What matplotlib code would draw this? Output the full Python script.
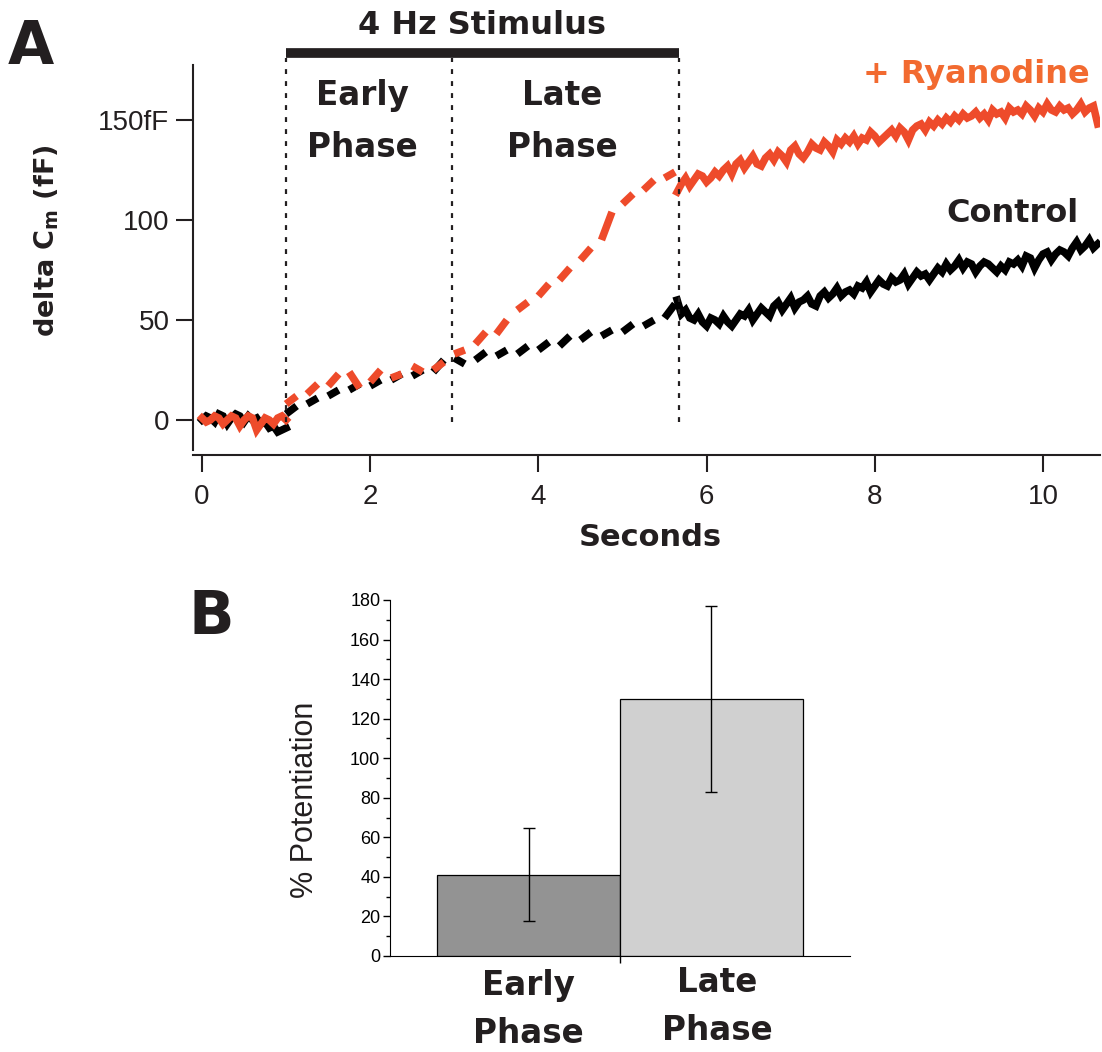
import matplotlib.pyplot as plt
import numpy as np

plt.rcParams['font.family'] = ['Liberation Sans', 'DejaVu Sans']
HEAVY = ['DejaVu Sans']
INK = '#231f20'
RED = '#ee4b2b'
ORANGE = '#f26a30'

# ---- panel A data (delta Cm in fF) ----
pre_t = np.linspace(0.0, 1.0, 21)
control_pre = [0, 2, 1, -1, 3, 2, -2, 1, 3, 2, -1, 2, 0, 1, -2, -1, -4, -3, -6, -5, -4]
ryan_pre = [1, -1, 0, 2, 1, -2, 0, 2, 1, -3, 0, 2, 1, -5, -2, 1, 0, -2, 1, 2, 0]

# during 4 Hz stimulus: pairs of samples between stimuli
stim_t = np.linspace(1.0, 5.625, 38)
control_stim = [3, 7, 8, 11, 12, 15, 15, 18, 17, 20, 20, 23, 22, 25, 24, 30, 31, 28, 30, 34,
                32, 35, 33, 37, 35, 39, 37, 42, 40, 44, 42, 45, 44, 48, 47, 50, 51, 58]
ryan_stim = [8, 12, 13, 18, 17, 23, 24, 16, 19, 25, 21, 23, 27, 24, 25, 29, 33, 35, 38, 44,
             43, 50, 55, 59, 62, 68, 70, 76, 80, 86, 90, 104, 108, 113, 115, 120, 121, 124]

post_t = np.linspace(5.65, 10.65, 101)
control_post = [60, 53, 55, 51, 50, 53, 49, 47, 51, 50, 48, 52, 49, 47, 50, 53, 52, 55, 50, 53,
                56, 54, 52, 57, 59, 55, 58, 61, 56, 59, 60, 62, 58, 57, 62, 64, 61, 63, 66, 62,
                64, 65, 63, 67, 66, 69, 64, 67, 70, 68, 67, 71, 69, 70, 73, 68, 71, 74, 72, 73,
                70, 73, 76, 74, 78, 75, 77, 80, 76, 79, 78, 74, 77, 79, 78, 76, 74, 77, 75, 79,
                78, 80, 77, 82, 81, 76, 80, 83, 84, 80, 83, 85, 84, 82, 86, 89, 85, 87, 90, 86, 88]
ryan_post = [114, 118, 121, 117, 120, 123, 122, 119, 121, 124, 122, 125, 127, 123, 128, 130, 126,
             129, 132, 128, 127, 131, 133, 130, 134, 132, 129, 135, 137, 133, 131, 134, 138, 136,
             135, 139, 137, 134, 140, 138, 141, 139, 142, 138, 141, 140, 144, 142, 139, 141, 143,
             145, 142, 146, 144, 140, 145, 147, 148, 145, 149, 147, 150, 148, 151, 149, 152, 150,
             153, 151, 152, 154, 151, 153, 150, 155, 153, 154, 151, 156, 154, 155, 153, 157, 155,
             152, 156, 154, 158, 155, 154, 157, 155, 156, 153, 155, 158, 154, 156, 157, 148]

stim_on, stim_off = 1.0, 5.67
phase_split = 2.97

# ---- panel B data ----
phases = ['Early\nPhase', 'Late\nPhase']
potentiation = [41.2, 130.0]
potentiation_err = [23.5, 47.0]
bar_colors = ['#939393', '#d0d0d0']

fig = plt.figure(figsize=(11.02, 10.52), dpi=100)

# ================= panel A =================
ax = fig.add_axes([193 / 1102, 1 - 455 / 1052, 907 / 1102, 390 / 1052])
ax.set_xlim(-0.107, 10.678)
ax.set_ylim(-17.5, 177.5)

lw = 5.4
for t, y, c in [(pre_t, control_pre, 'black'), (pre_t, ryan_pre, RED)]:
    ax.plot(t, y, color=c, lw=lw, solid_joinstyle='miter')
for y, c in [(control_stim, 'black'), (ryan_stim, RED)]:
    ax.plot(stim_t.reshape(-1, 2).T, np.array(y).reshape(-1, 2).T, color=c, lw=lw,
            solid_capstyle='butt')
for y, c in [(control_post, 'black'), (ryan_post, RED)]:
    ax.plot(post_t, y, color=c, lw=lw, solid_joinstyle='miter')

# stimulus bar and phase boundaries
ax.plot([stim_on, stim_off], [183.5, 183.5], color=INK, lw=7, solid_capstyle='butt', clip_on=False)
ax.vlines([stim_on, phase_split, stim_off], -1, 181, colors=INK, lw=1.6,
          linestyles=(0, (2.2, 3.2)), clip_on=False)

big = dict(family=HEAVY, weight='bold', color=INK)
ax.text(3.33, 197.5, '4 Hz Stimulus', ha='center', va='center', fontsize=23, **big)
ax.text(1.91, 149.25, 'Early\nPhase', ha='center', va='center', fontsize=23.5,
        linespacing=1.7, **big)
ax.text(4.28, 149.25, 'Late\nPhase', ha='center', va='center', fontsize=23.5,
        linespacing=1.7, **big)
ax.text(10.56, 172.5, '+ Ryanodine', ha='right', va='center', fontsize=23,
        family=HEAVY, weight='bold', color=ORANGE)
ax.text(10.42, 103.5, 'Control', ha='right', va='center', fontsize=23, **big)

ax.spines[['top', 'right']].set_visible(False)
for s in ['left', 'bottom']:
    ax.spines[s].set_linewidth(1.5)
    ax.spines[s].set_color(INK)
ax.spines['left'].set_bounds(-15, 177.5)
ax.set_xticks([0, 2, 4, 6, 8, 10])
ax.set_yticks([0, 50, 100, 150])
ax.set_yticklabels(['0', '50', '100', '150fF'])
ax.tick_params(axis='both', direction='out', length=12, width=1.5, labelsize=20,
               colors=INK, pad=5)
ax.tick_params(axis='x', pad=9)
ax.set_xlabel('Seconds', fontsize=22, **big)
ax.xaxis.set_label_coords(0.504, -0.175)
ax.set_ylabel('delta C$_\\mathregular{m}$ (fF)', fontsize=19.5, **big)
ax.yaxis.set_label_coords(-0.145, 0.55)

# ================= panel B =================
bx = fig.add_axes([390 / 1102, 1 - 956 / 1052, 460 / 1102, 356 / 1052])
bx.set_xlim(-0.757, 1.757)
bx.set_ylim(0, 180)
bx.bar([0, 1], potentiation, width=1.0, color=bar_colors, edgecolor='black', lw=0.9)
bx.errorbar([0, 1], potentiation, yerr=potentiation_err, fmt='none', ecolor='black',
            elinewidth=1.0, capsize=4, capthick=1.0)
bx.spines[['top', 'right']].set_visible(False)
bx.set_yticks(np.arange(0, 181, 20))
bx.set_yticks(np.arange(10, 180, 20), minor=True)
bx.set_xticks([0.5])
bx.set_xticklabels([''])
bx.tick_params(axis='y', which='major', length=5, width=1, labelsize=13, pad=2)
bx.tick_params(axis='y', which='minor', length=3, width=1)
bx.tick_params(axis='x', length=5, width=1)
for i, lab in enumerate(phases):
    bx.text(i + (0.03 if i else 0.0), -25.5 if i else -27.0, lab, ha='center', va='center',
            fontsize=23.5, linespacing=1.55, **big)
bx.set_ylabel('% Potentiation', fontsize=22, color=INK)
bx.yaxis.set_label_coords(-0.152, 0.44)

fig.text(8 / 1102, 1 - 47 / 1052, 'A', fontsize=43, color=INK, va='center', ha='left',
         family=HEAVY, weight='bold')
fig.text(188 / 1102, 1 - 617 / 1052, 'B', fontsize=43, color=INK, va='center', ha='left',
         family=HEAVY, weight='bold')

fig.savefig('out.png', dpi=100)
